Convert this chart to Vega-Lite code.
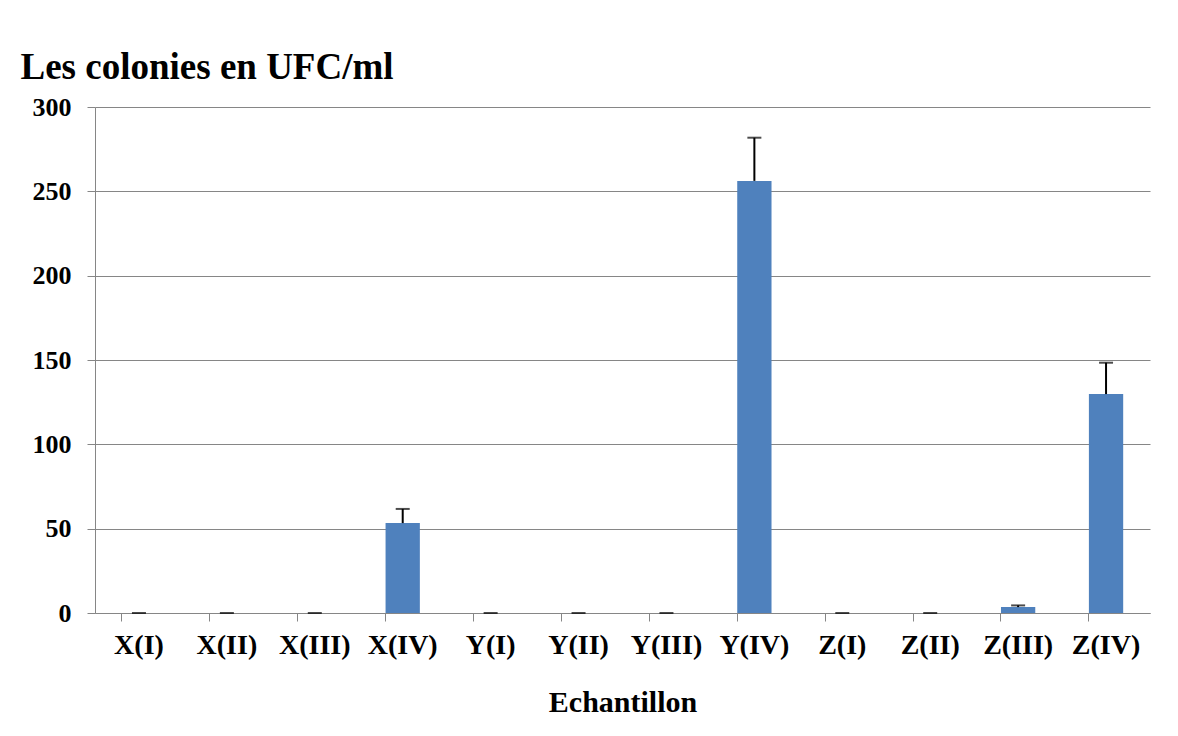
{
  "$schema": "https://vega.github.io/schema/vega-lite/v6.json",
  "width": 1055,
  "height": 506,
  "autosize": "none",
  "padding": {"left": 95, "top": 107, "right": 28, "bottom": 123},
  "background": "white",
  "config": {
    "view": {"stroke": null},
    "font": "Liberation Serif"
  },
  "data": {
    "values": [
      {"ech": "X(I)", "v": 0, "err": 0},
      {"ech": "X(II)", "v": 0, "err": 0},
      {"ech": "X(III)", "v": 0, "err": 0},
      {"ech": "X(IV)", "v": 53.3, "err": 8.4},
      {"ech": "Y(I)", "v": 0, "err": 0},
      {"ech": "Y(II)", "v": 0, "err": 0},
      {"ech": "Y(III)", "v": 0, "err": 0},
      {"ech": "Y(IV)", "v": 256.2, "err": 25.6},
      {"ech": "Z(I)", "v": 0, "err": 0},
      {"ech": "Z(II)", "v": 0, "err": 0},
      {"ech": "Z(III)", "v": 3.5, "err": 1.0},
      {"ech": "Z(IV)", "v": 129.8, "err": 18.6}
    ]
  },
  "transform": [{"calculate": "datum.v + datum.err", "as": "hi"}],
  "encoding": {
    "x": {
      "field": "ech",
      "type": "nominal",
      "sort": null,
      "scale": {"paddingInner": 0.61, "paddingOuter": 0.305},
      "axis": {
        "title": "Echantillon",
        "titleFont": "Liberation Serif",
        "titleFontSize": 30,
        "titleFontWeight": "bold",
        "titleColor": "black",
        "titlePadding": 28,
        "labelAngle": 0,
        "labelFont": "Liberation Serif",
        "labelFontSize": 28,
        "labelFontWeight": "bold",
        "labelColor": "black",
        "labelPadding": 10,
        "bandPosition": 0,
        "tickSize": 8,
        "tickColor": "#868686",
        "domainColor": "#868686",
        "grid": false
      }
    }
  },
  "layer": [
    {
      "mark": {"type": "bar", "color": "#4F81BD"},
      "encoding": {
        "y": {
          "field": "v",
          "type": "quantitative",
          "scale": {"domain": [0, 300]},
          "axis": {
            "title": "Les colonies en UFC/ml",
            "titleAngle": 0,
            "titleAlign": "left",
            "titleBaseline": "alphabetic",
            "titleX": -75,
            "titleY": -29,
            "titleFont": "Liberation Serif",
            "titleFontSize": 37,
            "titleFontWeight": "bold",
            "titleColor": "black",
            "values": [0, 50, 100, 150, 200, 250, 300],
            "labelFont": "Liberation Serif",
            "labelFontSize": 26,
            "labelFontWeight": "bold",
            "labelColor": "black",
            "labelPadding": 16,
            "tickSize": 8,
            "tickColor": "#868686",
            "domainColor": "#868686",
            "gridColor": "#868686",
            "gridWidth": 1.2
          }
        }
      }
    },
    {
      "mark": {"type": "rule", "color": "black", "strokeWidth": 2},
      "encoding": {
        "y": {"field": "v", "type": "quantitative"},
        "y2": {"field": "hi"}
      }
    },
    {
      "mark": {"type": "tick", "color": "black", "thickness": 2, "size": 14},
      "encoding": {
        "y": {"field": "hi", "type": "quantitative"}
      }
    }
  ]
}
